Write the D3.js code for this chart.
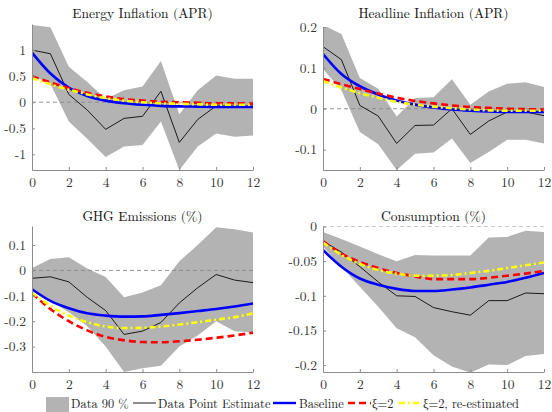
<!DOCTYPE html>
<html>
<head>
<meta charset="utf-8">
<script src="https://cdn.jsdelivr.net/npm/d3@7"></script>
<style>
    html, body { margin: 0; padding: 0; background: #fff; }
    svg { display: block; }
    .axis path, .axis line { stroke: #8c8c8c; }
</style>
</head>
<body>
<div id="chart"></div>
<script>
// horizon (quarters)
const horizon = [0, 1, 2, 3, 4, 5, 6, 7, 8, 9, 10, 11, 12];
const xTicks = [0, 2, 4, 6, 8, 10, 12];

// Energy Inflation (APR)
const energyHi = [1.48, 1.44, 0.68, 0.39, 0.06, 0.23, 0.30, 0.79, -0.23, 0.23, 0.51, 0.45, 0.45];
const energyLo = [0.51, 0.35, -0.37, -0.70, -1.05, -0.85, -0.82, -0.37, -1.30, -0.85, -0.60, -0.66, -0.64];
const energyPoint = [1.0, 0.93, 0.15, -0.15, -0.52, -0.31, -0.27, 0.21, -0.77, -0.33, -0.07, -0.10, -0.08];
const energyBase = [0.95, 0.55, 0.28, 0.12, 0.03, -0.02, -0.05, -0.07, -0.08, -0.085, -0.09, -0.09, -0.09];
const energyXi = [0.50, 0.38, 0.27, 0.18, 0.11, 0.06, 0.03, 0.01, 0.0, -0.01, -0.02, -0.02, -0.03];
const energyXiRe = [0.46, 0.34, 0.24, 0.15, 0.08, 0.03, 0.0, -0.02, -0.03, -0.04, -0.05, -0.05, -0.05];
const energyTicks = [-1, -0.5, 0, 0.5, 1];

// Headline Inflation (APR)
const headHi = [0.205, 0.183, 0.075, 0.049, -0.019, 0.026, 0.028, 0.072, 0.01, 0.042, 0.061, 0.065, 0.053];
const headLo = [0.097, 0.045, -0.057, -0.087, -0.15, -0.11, -0.107, -0.073, -0.133, -0.106, -0.076, -0.076, -0.085];
const headPoint = [0.152, 0.12, 0.008, -0.018, -0.085, -0.041, -0.04, 0.0, -0.063, -0.03, -0.008, -0.008, -0.017];
const headBase = [0.134, 0.085, 0.055, 0.035, 0.02, 0.01, 0.003, -0.002, -0.005, -0.007, -0.008, -0.008, -0.008];
const headXi = [0.073, 0.06, 0.048, 0.037, 0.027, 0.019, 0.013, 0.008, 0.004, 0.002, 0.0, -0.001, -0.002];
const headXiRe = [0.067, 0.052, 0.038, 0.027, 0.017, 0.01, 0.005, 0.001, -0.002, -0.004, -0.005, -0.005, -0.005];
const headTicks = [-0.1, 0, 0.1, 0.2];

// GHG Emissions (%)
const ghgHi = [0.01, 0.045, 0.052, 0.008, -0.026, -0.106, -0.087, -0.058, 0.036, 0.10, 0.17, 0.162, 0.149];
const ghgLo = [-0.074, -0.12, -0.165, -0.22, -0.30, -0.40, -0.385, -0.375, -0.30, -0.256, -0.20, -0.24, -0.243];
const ghgPoint = [-0.031, -0.025, -0.045, -0.106, -0.158, -0.252, -0.239, -0.205, -0.128, -0.068, -0.016, -0.038, -0.048];
const ghgBase = [-0.074, -0.12, -0.149, -0.169, -0.178, -0.182, -0.181, -0.175, -0.168, -0.16, -0.152, -0.142, -0.13];
const ghgXi = [-0.09, -0.152, -0.2, -0.236, -0.262, -0.275, -0.282, -0.283, -0.279, -0.273, -0.265, -0.256, -0.245];
const ghgXiRe = [-0.087, -0.139, -0.178, -0.204, -0.221, -0.227, -0.226, -0.221, -0.213, -0.204, -0.194, -0.184, -0.169];
const ghgTicks = [-0.3, -0.2, -0.1, 0, 0.1];

// Consumption (%)
const consHi = [-0.008, -0.018, -0.029, -0.04, -0.05, -0.041, -0.042, -0.042, -0.042, -0.016, -0.015, -0.006, -0.008];
const consLo = [-0.029, -0.058, -0.087, -0.116, -0.147, -0.16, -0.186, -0.202, -0.211, -0.199, -0.2, -0.187, -0.184];
const consPoint = [-0.021, -0.037, -0.058, -0.08, -0.1, -0.101, -0.117, -0.123, -0.128, -0.107, -0.107, -0.096, -0.097];
const consBase = [-0.034, -0.058, -0.075, -0.084, -0.09, -0.093, -0.093, -0.091, -0.088, -0.084, -0.08, -0.074, -0.067];
const consXi = [-0.021, -0.039, -0.051, -0.06, -0.067, -0.072, -0.076, -0.076, -0.076, -0.074, -0.071, -0.068, -0.064];
const consXiRe = [-0.023, -0.041, -0.054, -0.063, -0.068, -0.071, -0.071, -0.07, -0.067, -0.064, -0.06, -0.056, -0.052];
const consTicks = [-0.2, -0.15, -0.1, -0.05, 0];

const legendLabels = ['Data 90 %', 'Data Point Estimate', 'Baseline', 'ξ=2', 'ξ=2, re-estimated'];

const FONT = '"Latin Modern Roman", "Liberation Serif", serif';

/**
 * PANELS
 * */
const panels = [
    {title: 'Energy Inflation (APR)', box: [32, 24, 253, 170], ylim: [-1.3, 1.5], ticks: energyTicks,
        hi: energyHi, lo: energyLo, point: energyPoint, base: energyBase, xi: energyXi, xiRe: energyXiRe},
    {title: 'Headline Inflation (APR)', box: [323, 27, 544, 170], ylim: [-0.15, 0.2], ticks: headTicks,
        hi: headHi, lo: headLo, point: headPoint, base: headBase, xi: headXi, xiRe: headXiRe},
    {title: 'GHG Emissions (%)', box: [32, 226, 253, 372], ylim: [-0.4, 0.175], ticks: ghgTicks,
        hi: ghgHi, lo: ghgLo, point: ghgPoint, base: ghgBase, xi: ghgXi, xiRe: ghgXiRe},
    {title: 'Consumption (%)', box: [323, 226.5, 544, 372], ylim: [-0.21, 0], ticks: consTicks,
        hi: consHi, lo: consLo, point: consPoint, base: consBase, xi: consXi, xiRe: consXiRe},
];

const styles = {
    band: '#b3b3b3',
    point: {stroke: '#1a1a1a', width: 1, dash: null},
    base: {stroke: '#0000ff', width: 2.6, dash: null},
    xi: {stroke: '#ff0000', width: 2.6, dash: '7,4'},
    xiRe: {stroke: '#ffff00', width: 2.6, dash: '6,3,2,3'},
};

const svg = d3.select('#chart').append('svg')
    .attr('width', 552)
    .attr('height', 412)
    .style('font-family', FONT);

const fmt = d => `${+d.toFixed(3)}`;

const drawPanel = (p, i) => {
    const [x0, y0, x1, y1] = p.box;
    const x = d3.scaleLinear().domain([0, 12]).range([x0, x1]);
    const y = d3.scaleLinear().domain(p.ylim).range([y1, y0]);
    const g = svg.append('g').attr('class', 'panel');

    // clip to axes box
    const clipId = `clip-${i}`;
    g.append('clipPath').attr('id', clipId)
        .append('rect')
        .attr('x', x0).attr('y', y0)
        .attr('width', x1 - x0).attr('height', y1 - y0);
    const plot = g.append('g').attr('clip-path', `url(#${clipId})`);

    // confidence band
    const area = d3.area()
        .x((d, k) => x(horizon[k]))
        .y0((d, k) => y(p.lo[k]))
        .y1(d => y(d));
    plot.append('path')
        .attr('d', area(p.hi))
        .attr('fill', styles.band);

    // zero line
    plot.append('line')
        .attr('x1', x0).attr('x2', x1)
        .attr('y1', y(0)).attr('y2', y(0))
        .attr('stroke', '#8a8a8a')
        .attr('stroke-width', 0.9)
        .attr('stroke-dasharray', '4,3');

    const addLine = (values, st, curve) => {
        const line = d3.line()
            .x((d, k) => x(horizon[k]))
            .y(d => y(d))
            .curve(curve);
        plot.append('path')
            .attr('d', line(values))
            .attr('fill', 'none')
            .attr('stroke', st.stroke)
            .attr('stroke-width', st.width)
            .attr('stroke-dasharray', st.dash);
    };
    addLine(p.point, styles.point, d3.curveLinear);
    addLine(p.base, styles.base, d3.curveMonotoneX);
    addLine(p.xi, styles.xi, d3.curveMonotoneX);
    addLine(p.xiRe, styles.xiRe, d3.curveMonotoneX);

    // axes
    const xAxis = d3.axisBottom(x).tickValues(xTicks).tickSizeInner(-3).tickSizeOuter(0).tickPadding(7);
    const xg = g.append('g').attr('class', 'axis')
        .attr('transform', `translate(0,${y1})`)
        .call(xAxis);

    const yAxis = d3.axisLeft(y).tickValues(p.ticks).tickFormat(fmt)
        .tickSizeInner(-3).tickSizeOuter(0).tickPadding(6);
    const yg = g.append('g').attr('class', 'axis')
        .attr('transform', `translate(${x0},0)`)
        .call(yAxis);

    [xg, yg].forEach(ax => ax
        .style('font-family', FONT)
        .style('font-size', '13.5px')
        .selectAll('text')
        .attr('fill', '#333'));

    // title
    g.append('text')
        .attr('x', (x0 + x1) / 2)
        .attr('y', y0 < 100 ? 18 : 221)
        .attr('text-anchor', 'middle')
        .style('font-size', '13.5px')
        .attr('fill', '#111')
        .text(p.title);
};

panels.forEach(drawPanel);

/**
 * LEGEND
 * */
const legend = svg.append('g').style('font-size', '12.4px').attr('fill', '#222');
const legendY = 403;
const legendItems = [
    {type: 'band', x: 46, tx: 71},
    {type: 'point', x: 133, tx: 158},
    {type: 'base', x: 273, tx: 299},
    {type: 'xi', x: 348, tx: 372},
    {type: 'xiRe', x: 399, tx: 423},
];
legendItems.forEach((item, k) => {
    if (item.type === 'band') {
        legend.append('rect')
            .attr('x', item.x).attr('y', 397)
            .attr('width', 23).attr('height', 16)
            .attr('fill', styles.band);
    } else {
        const st = styles[item.type];
        legend.append('line')
            .attr('x1', item.x).attr('x2', item.x + 23)
            .attr('y1', legendY).attr('y2', legendY)
            .attr('stroke', st.stroke)
            .attr('stroke-width', item.type === 'point' ? 1 : 2.4)
            .attr('stroke-dasharray', st.dash);
    }
    legend.append('text')
        .attr('x', item.tx)
        .attr('y', legendY + 5)
        .text(legendLabels[k]);
});
</script>
</body>
</html>
